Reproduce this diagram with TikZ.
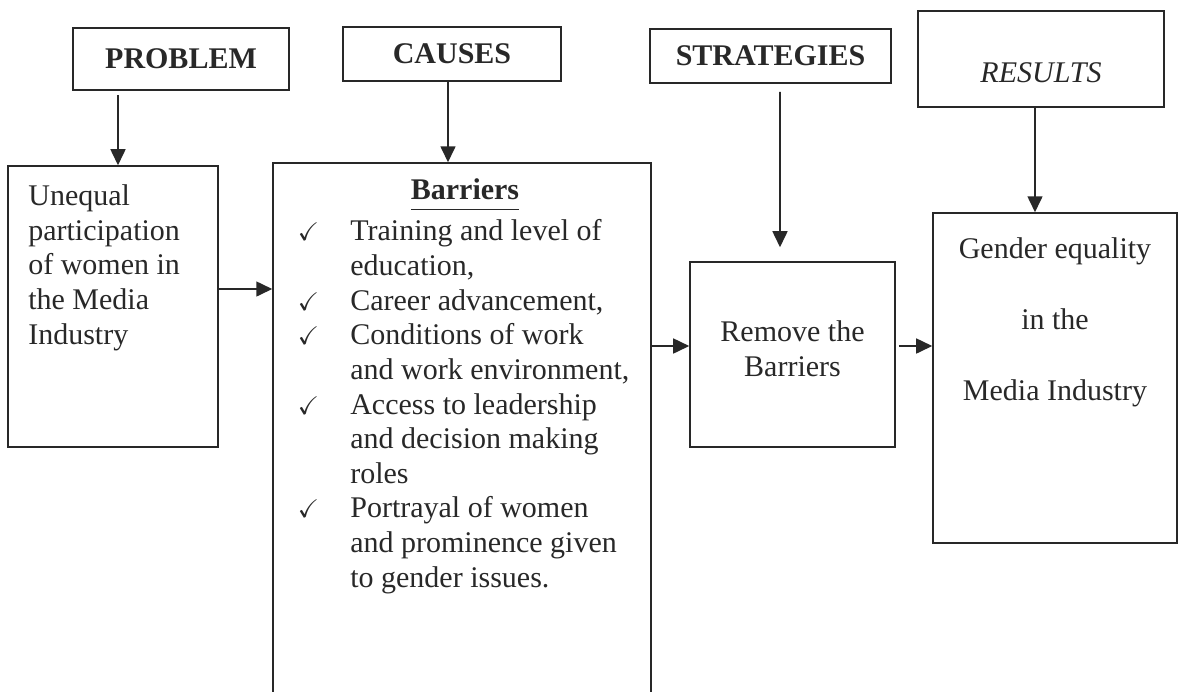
\documentclass[tikz,border=0pt]{standalone}
\usepackage{amssymb}
\usepackage{fontspec}
\setmainfont{Liberation Serif}
\usepackage{tikz}
\usetikzlibrary{calc, arrows.meta}

\definecolor{ink}{RGB}{40,40,40}
\newcommand{\mainsize}{\fontsize{17.07pt}{19.7pt}\selectfont}
\newcommand{\chk}{\makebox[1.1cm][l]{\hspace{0.05cm}\scalebox{0.85}{$\checkmark$}}}
\newcommand{\ind}{\hspace*{1.1cm}}

\tikzset{
    headnode/.style = {draw=ink, rectangle, inner sep=0em, line width=0.9pt, text=ink, 
      font=\mainsize\bfseries},
    boxnode/.style = {draw=ink, rectangle, fill=none, inner sep=0em, line width=0.9pt},
    textnode/.style = {draw=none, fill=none, rectangle, inner sep=0em, text=ink, font=\mainsize},
    connect/.style = {ink, line width=0.9pt, -{Triangle[length=0.32cm, width=0.3cm]}}
}

\begin{document}
\begin{tikzpicture}[x=0.02cm, y=-0.02cm]
    \useasboundingbox (0,0) rectangle (1184,691);
    \clip (0,0) rectangle (1184,691);

    % headings
    \node [name=prob, headnode, minimum width=4.32cm, minimum height=1.24cm] at (181,59) {PROBLEM};
    \node [name=causes, headnode, minimum width=4.36cm, minimum height=1.08cm] at (452,54) {CAUSES};
    \node [name=strat, headnode, minimum width=4.82cm, minimum height=1.08cm] at (770.5,56) {STRATEGIES};
    \node [name=results, boxnode, minimum width=4.92cm, minimum height=1.92cm] at (1041,59) {};
    \node [name=resultstext, textnode, font=\mainsize\itshape] at (1041,73) {RESULTS};

    % problem
    \node [name=unequal, boxnode, minimum width=4.2cm, minimum height=5.62cm] at (113,306.5) {};
    \node [name=unequaltext, textnode, anchor=north west, align=left] at (28,184.5) 
        {Unequal\\participation\\of women in\\the Media\\Industry};

    % causes
    \node [name=barriers, boxnode, minimum width=7.56cm, minimum height=11.14cm] at (462,441.5) {};
    \node [name=barrierstitle, textnode, font=\mainsize\bfseries, anchor=base] at (465,199) 
        {\underline{Barriers\vphantom{g}}};
    \node [name=barrierslist, textnode, anchor=north west, align=left] at (295,219.5) 
        {\chk Training and level of\\ \ind education,\\ \chk Career advancement,\\ 
         \chk Conditions of work\\ \ind and work environment,\\ \chk Access to leadership\\ 
         \ind and decision making\\ \ind roles\\ \chk Portrayal of women\\ 
         \ind and prominence given\\ \ind to gender issues.};

    % strategies
    \node [name=remove, boxnode, minimum width=4.1cm, minimum height=3.7cm] at (792.5,354.5) {};
    \node [name=removetext, textnode, anchor=north, align=center] at (792.5,320.5) 
        {Remove the\\Barriers};

    % results
    \node [name=gender, boxnode, minimum width=4.88cm, minimum height=6.6cm] at (1055,378) {};
    \node [name=gendertext, textnode, anchor=north, align=center, 
        font=\fontsize{17.07pt}{40.4pt}\selectfont] at (1055,237) 
        {Gender equality\\in the\\Media Industry};

    % arrows
    \coordinate (probout) at ($(prob.south)+(-63,4)$);
    \draw [connect] (probout) -- (probout |- unequal.north);
    \coordinate (causesout) at ($(causes.south)+(-4,0)$);
    \draw [connect] (causesout) -- (causesout |- barriers.north);
    \coordinate (stratout) at ($(strat.south)+(9.5,8)$);
    \coordinate (stratin) at ($(remove.north)+(-12.5,-14)$);
    \draw [connect] (stratout) -- (stratin);
    \coordinate (resultsout) at ($(results.south)+(-6,0)$);
    \draw [connect] (resultsout) -- (resultsout |- gender.north);

    \coordinate (unequalout) at ($(unequal.east)+(0,-17.5)$);
    \draw [connect] (unequalout) -- (unequalout -| barriers.west);
    \coordinate (removein) at ($(remove.west)+(0,-8.5)$);
    \draw [connect] (removein -| barriers.east) -- (removein);
    \coordinate (removeout) at ($(remove.east)+(3,-8.5)$);
    \draw [connect] (removeout) -- (removeout -| gender.west);
\end{tikzpicture}
\end{document}
